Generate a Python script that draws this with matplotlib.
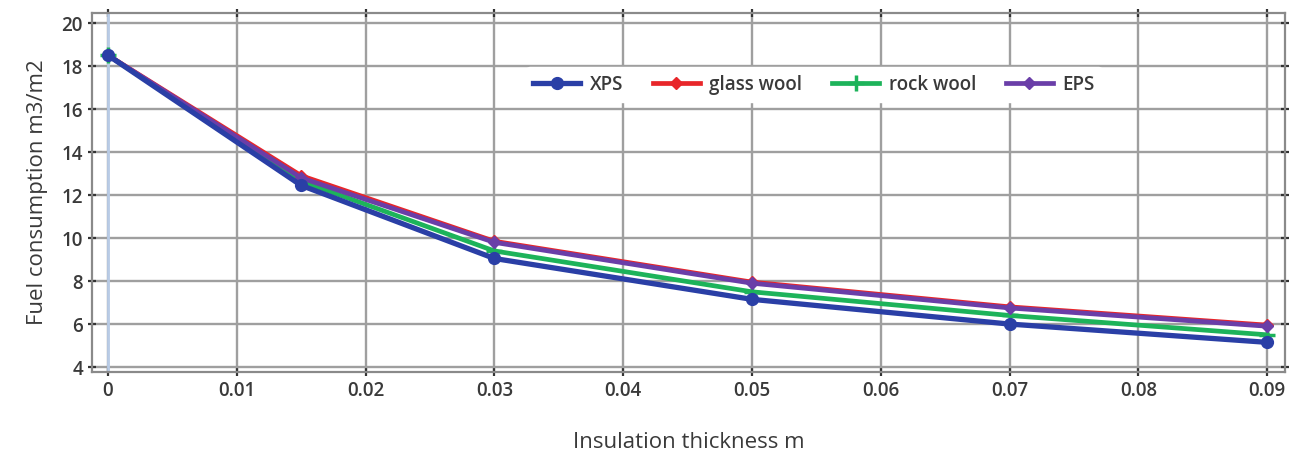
import numpy as np
import matplotlib.pyplot as plt

plt.rcParams['font.family'] = ['Open Sans', 'DejaVu Sans']

thickness = [0, 0.015, 0.03, 0.05, 0.07, 0.09]
xps = [18.5, 12.45, 9.05, 7.15, 6.0, 5.15]
glass_wool = [18.5, 12.9, 9.85, 7.95, 6.8, 5.95]
rock_wool = [18.5, 12.65, 9.4, 7.5, 6.4, 5.5]
eps = [18.5, 12.8, 9.8, 7.9, 6.75, 5.9]
xticks = [0, 0.01, 0.02, 0.03, 0.04, 0.05, 0.06, 0.07, 0.08, 0.09]
xticklabels = ['0', '0.01', '0.02', '0.03', '0.04', '0.05', '0.06', '0.07', '0.08', '0.09']
yticks = [4, 6, 8, 10, 12, 14, 16, 18, 20]

fig = plt.figure(figsize=(12.9, 4.61), dpi=100)
ax = fig.add_axes([0.0713, 0.193, 0.925, 0.779])

txt = '#3a3a3a'
ax.axvline(0, color='#b8cbe6', lw=2, zorder=1)
ax.plot(thickness, rock_wool, color='#1db35a', lw=3.4, marker='+', ms=11, mew=2.5, label='rock wool', zorder=3)
ax.plot(thickness, glass_wool, color='#e8262a', lw=3.4, marker='D', ms=6, label='glass wool', zorder=3)
ax.plot(thickness, eps, color='#6a3ea8', lw=3.4, marker='D', ms=6.5, label='EPS', zorder=4)
ax.plot(thickness, xps, color='#2a3fa6', lw=3.8, marker='o', ms=8.5, label='XPS', zorder=5)

ax.set_xlim(-0.00124, 0.0914)
ax.set_ylim(3.77, 20.47)
ax.set_xticks(xticks)
ax.set_xticklabels(xticklabels)
ax.set_yticks(yticks)
ax.grid(True, color='#9f9f9f', lw=1.7)
ax.set_axisbelow(True)
for s in ax.spines.values():
    s.set_color('#8a8a8a')
    s.set_linewidth(1.6)
ax.tick_params(axis='both', which='both', direction='inout', length=6, width=1.6,
               color='#333333', labelsize=13.5, labelcolor=txt,
               top=True, right=True)
for lab in ax.get_xticklabels() + ax.get_yticklabels():
    lab.set_fontweight('semibold')

ax.set_xlabel('Insulation thickness m', fontsize=16, color=txt, labelpad=22)
ax.set_ylabel('Fuel consumption m3/m2', fontsize=16, color=txt, labelpad=10)

handles, labels = ax.get_legend_handles_labels()
order = [3, 1, 0, 2]
leg = ax.legend([handles[i] for i in order], [labels[i] for i in order],
                loc='center', bbox_to_anchor=(0.605, 0.80), ncol=4, frameon=True,
                facecolor='white', edgecolor='white', framealpha=1,
                fontsize=13.5, handlelength=2.5, columnspacing=1.6, handletextpad=0.5)
for t in leg.get_texts():
    t.set_color(txt)
    t.set_fontweight('semibold')

fig.savefig('out.png', dpi=100)
